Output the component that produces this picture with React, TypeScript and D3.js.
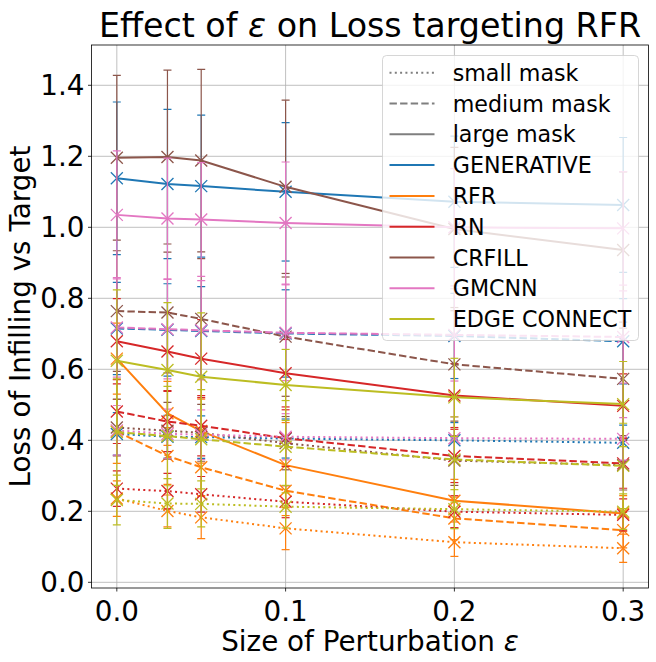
import React from 'react';
import * as d3 from 'd3';

// perturbation sizes on x
const epsilons = [0, 0.03, 0.05, 0.1, 0.2, 0.3];
const models = ['GENERATIVE', 'RFR', 'RN', 'CRFILL', 'GMCNN', 'EDGE CONNECT'];
const modelColors = ['#1f77b4', '#ff7f0e', '#d62728', '#8c564b', '#e377c2', '#bcbd22'];
const maskNames = ['small mask', 'medium mask', 'large mask'];

// rows follow `models`
const smallMeans = [
  [0.418, 0.410, 0.409, 0.405, 0.400, 0.393],
  [0.236, 0.201, 0.183, 0.152, 0.113, 0.096],
  [0.264, 0.257, 0.248, 0.227, 0.199, 0.190],
  [0.436, 0.427, 0.421, 0.392, 0.343, 0.330],
  [0.428, 0.418, 0.416, 0.410, 0.406, 0.404],
  [0.232, 0.222, 0.221, 0.213, 0.206, 0.199],
];
const smallStds = [
  [0.06, 0.06, 0.06, 0.055, 0.05, 0.05],
  [0.05, 0.045, 0.06, 0.06, 0.04, 0.04],
  [0.05, 0.05, 0.05, 0.045, 0.045, 0.045],
  [0.08, 0.08, 0.08, 0.075, 0.07, 0.07],
  [0.07, 0.07, 0.07, 0.065, 0.06, 0.06],
  [0.07, 0.07, 0.065, 0.06, 0.055, 0.05],
];
const mediumMeans = [
  [0.715, 0.711, 0.708, 0.701, 0.694, 0.679],
  [0.425, 0.356, 0.324, 0.258, 0.180, 0.147],
  [0.481, 0.453, 0.441, 0.406, 0.356, 0.335],
  [0.764, 0.760, 0.742, 0.692, 0.614, 0.573],
  [0.718, 0.713, 0.710, 0.703, 0.697, 0.691],
  [0.423, 0.412, 0.403, 0.382, 0.346, 0.328],
];
const mediumStds = [
  [0.13, 0.13, 0.125, 0.123, 0.12, 0.12],
  [0.09, 0.08, 0.08, 0.07, 0.06, 0.05],
  [0.09, 0.085, 0.085, 0.08, 0.075, 0.07],
  [0.17, 0.17, 0.17, 0.168, 0.16, 0.16],
  [0.14, 0.14, 0.14, 0.135, 0.13, 0.13],
  [0.15, 0.14, 0.14, 0.13, 0.12, 0.12],
];
const largeMeans = [
  [1.138, 1.122, 1.116, 1.100, 1.072, 1.063],
  [0.630, 0.476, 0.426, 0.330, 0.230, 0.194],
  [0.679, 0.650, 0.630, 0.589, 0.526, 0.497],
  [1.196, 1.198, 1.188, 1.114, 0.995, 0.936],
  [1.035, 1.025, 1.022, 1.012, 1.000, 0.997],
  [0.624, 0.598, 0.579, 0.556, 0.521, 0.502],
];
const largeStds = [
  [0.215, 0.21, 0.20, 0.195, 0.185, 0.19],
  [0.10, 0.09, 0.09, 0.12, 0.06, 0.05],
  [0.12, 0.11, 0.11, 0.095, 0.09, 0.09],
  [0.232, 0.245, 0.257, 0.244, 0.23, 0.22],
  [0.18, 0.17, 0.16, 0.172, 0.165, 0.16],
  [0.20, 0.19, 0.18, 0.10, 0.11, 0.12],
];

const xTicks = [0, 0.1, 0.2, 0.3];
const yTicks = [0, 0.2, 0.4, 0.6, 0.8, 1.0, 1.2, 1.4];

const maskMeans = [smallMeans, mediumMeans, largeMeans];
const maskStds = [smallStds, mediumStds, largeStds];
const maskDash = ['2,3.3', '7.4,3.2', null];

const FONT = 'DejaVu Sans, sans-serif';

export default function App() {
  const left = 91.5, right = 648.5, top = 45, bottom = 588;
  const x = d3.scaleLinear().domain([-0.015, 0.315]).range([left, right]);
  const y = d3.scaleLinear().domain([-0.016, 1.5135]).range([bottom, top]);

  const line = d3.line<number>()
    .x((_, i) => x(epsilons[i]))
    .y(d => y(d));

  // series in drawing order: model by model, mask by mask
  const series: any[] = [];
  models.forEach((m, mi) => {
    maskNames.forEach((_, k) => {
      series.push({
        key: `${m}-${k}`,
        color: modelColors[mi],
        dash: maskDash[k],
        means: maskMeans[k][mi],
        stds: maskStds[k][mi],
      });
    });
  });

  const cap = 4;
  const mk = 6;

  const legendRows = [
    ...maskNames.map((n, k) => ({ label: n, color: '#7f7f7f', dash: maskDash[k] })),
    ...models.map((n, i) => ({ label: n, color: modelColors[i], dash: null })),
  ];

  return (
    <svg width={656} height={662} style={{ display: 'block', position: 'absolute', left: 0, top: 0 }}>
      <rect width={656} height={662} fill="#fff" />
      <defs>
        <clipPath id="plot">
          <rect x={left} y={top} width={right - left} height={bottom - top} />
        </clipPath>
      </defs>

      {/* grid */}
      <g stroke="#b0b0b0" strokeWidth={0.8}>
        {xTicks.map(t => (
          <line key={'gx' + t} x1={x(t)} x2={x(t)} y1={top} y2={bottom} />
        ))}
        {yTicks.map(t => (
          <line key={'gy' + t} x1={left} x2={right} y1={y(t)} y2={y(t)} />
        ))}
      </g>

      <g clipPath="url(#plot)">
        {series.map(s => (
          <g key={s.key} stroke={s.color}>
            <g strokeWidth={1.2}>
              {s.means.map((v: number, i: number) => {
                const cx = x(epsilons[i]);
                const y1 = y(v + s.stds[i]);
                const y2 = y(v - s.stds[i]);
                return (
                  <g key={i}>
                    <line x1={cx} x2={cx} y1={y1} y2={y2} />
                    <line x1={cx - cap} x2={cx + cap} y1={y1} y2={y1} />
                    <line x1={cx - cap} x2={cx + cap} y1={y2} y2={y2} />
                  </g>
                );
              })}
            </g>
            <path d={line(s.means) || ''} fill="none" strokeWidth={2}
              strokeDasharray={s.dash || undefined} />
            <g strokeWidth={1.3}>
              {s.means.map((v: number, i: number) => {
                const cx = x(epsilons[i]);
                const cy = y(v);
                return (
                  <g key={i}>
                    <line x1={cx - mk} x2={cx + mk} y1={cy - mk} y2={cy + mk} />
                    <line x1={cx - mk} x2={cx + mk} y1={cy + mk} y2={cy - mk} />
                  </g>
                );
              })}
            </g>
          </g>
        ))}
      </g>

      {/* spines and ticks */}
      <rect x={left} y={top} width={right - left} height={bottom - top} fill="none" stroke="#000" strokeWidth={0.8} />
      <g stroke="#000" strokeWidth={0.8}>
        {xTicks.map(t => (
          <line key={'tx' + t} x1={x(t)} x2={x(t)} y1={bottom} y2={bottom + 3.5} />
        ))}
        {yTicks.map(t => (
          <line key={'ty' + t} x1={left - 3.5} x2={left} y1={y(t)} y2={y(t)} />
        ))}
      </g>
      <g fontFamily={FONT} fontSize={27.8} fill="#000">
        {xTicks.map(t => (
          <text key={'lx' + t} x={x(t)} y={621} textAnchor="middle">{d3.format('.1f')(t)}</text>
        ))}
        {yTicks.map(t => (
          <text key={'ly' + t} x={left - 7} y={y(t) + 10} textAnchor="end">{d3.format('.1f')(t)}</text>
        ))}
        <text x={(left + right) / 2} y={651} textAnchor="middle">
          Size of Perturbation <tspan fontStyle="italic">ε</tspan>
        </text>
        <text transform={`translate(30,${(top + bottom) / 2}) rotate(-90)`} textAnchor="middle">
          Loss of Infilling vs Target
        </text>
      </g>
      <text x={(left + right) / 2} y={37} textAnchor="middle" fontFamily={FONT} fontSize={33.3}>
        Effect of <tspan fontStyle="italic">ε</tspan> on Loss targeting RFR
      </text>

      {/* legend */}
      <g>
        <rect x={382.5} y={55.5} width={256} height={285} rx={4} fill="#fff" fillOpacity={0.8}
          stroke="#cccccc" strokeOpacity={0.8} strokeWidth={1} />
        {legendRows.map((r, i) => {
          const cy = 72.7 + i * 30.8;
          return (
            <g key={r.label}>
              <line x1={389.5} x2={434.5} y1={cy} y2={cy} stroke={r.color} strokeWidth={2}
                strokeDasharray={r.dash || undefined} />
              <text x={452.7} y={cy + 8} fontFamily={FONT} fontSize={22.2} fill="#000">{r.label}</text>
            </g>
          );
        })}
      </g>
    </svg>
  );
}
